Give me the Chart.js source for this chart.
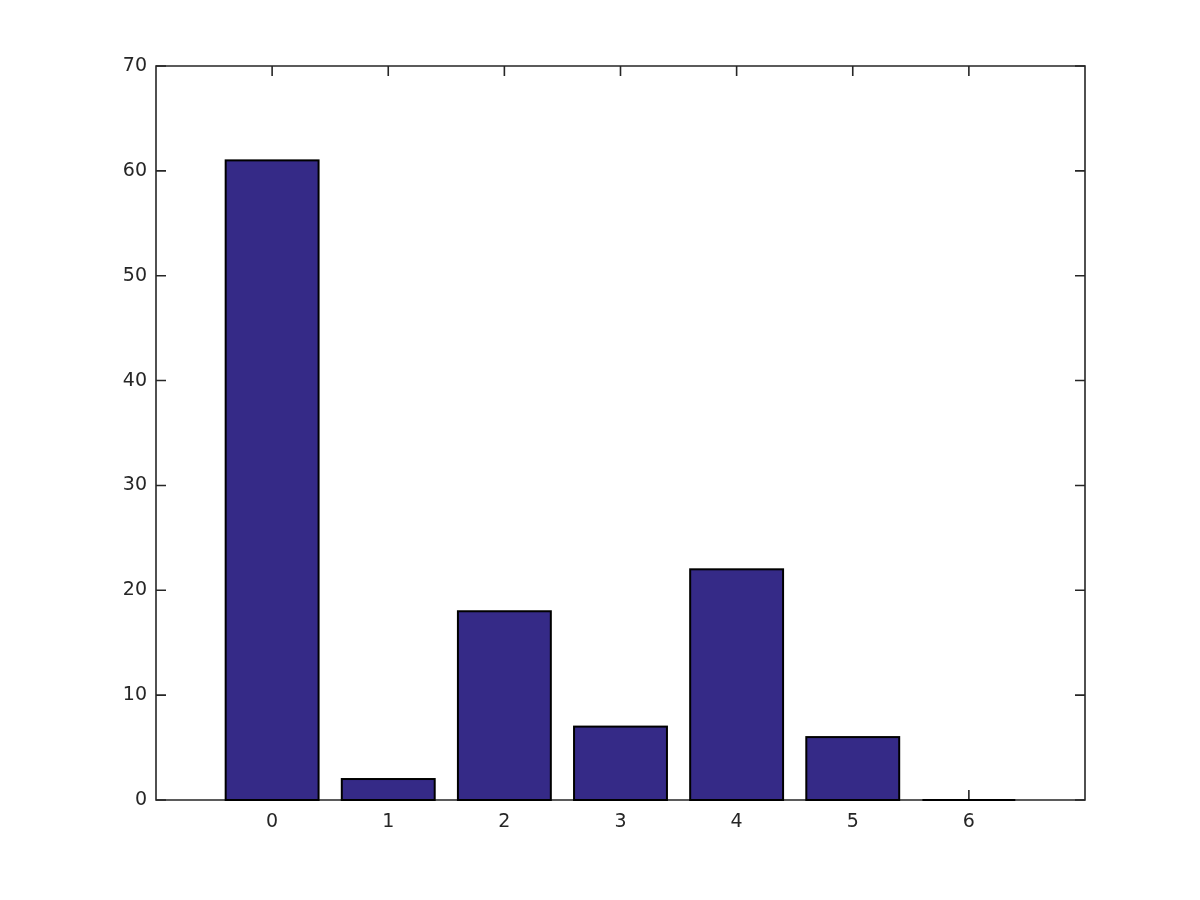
<!DOCTYPE html>
<html>
<head>
<meta charset="utf-8">
<script src="https://cdn.jsdelivr.net/npm/chart.js@4.4.0/dist/chart.umd.min.js"></script>
<style>
html,body{margin:0;padding:0;background:#fff;}
#wrap{width:1200px;height:900px;}
</style>
</head>
<body>
<div id="wrap"><canvas id="c" width="1200" height="900"></canvas></div>
<script>
const categories = [0, 1, 2, 3, 4, 5, 6];
const counts = [61, 2, 18, 7, 22, 6, 0];
const xTickLabels = ['0', '1', '2', '3', '4', '5', '6'];
const yTickValues = [0, 10, 20, 30, 40, 50, 60, 70];

const AXIS = '#262626';
const FONT = {family: 'DejaVu Sans', size: 19};

const framePlugin = {
  id: 'frame',
  afterDraw(chart) {
    const {ctx, chartArea: a, scales: {x, y}} = chart;
    ctx.save();
    ctx.strokeStyle = AXIS;
    ctx.lineWidth = 1.6;
    ctx.beginPath();
    ctx.rect(a.left, a.top, a.right - a.left, a.bottom - a.top);
    ctx.stroke();
    const L = 10;
    ctx.beginPath();
    categories.forEach(v => {
      const px = x.getPixelForValue(v);
      ctx.moveTo(px, a.bottom); ctx.lineTo(px, a.bottom - L);
      ctx.moveTo(px, a.top); ctx.lineTo(px, a.top + L);
    });
    yTickValues.forEach(v => {
      const py = y.getPixelForValue(v);
      ctx.moveTo(a.left, py); ctx.lineTo(a.left + L, py);
      ctx.moveTo(a.right, py); ctx.lineTo(a.right - L, py);
    });
    ctx.stroke();
    ctx.restore();
  }
};

const barsOverFrame = {
  id: 'barsOverFrame',
  afterDraw(chart) {
    const meta = chart.getDatasetMeta(0);
    const ctx = chart.ctx;
    const y0 = chart.scales.y.getPixelForValue(0);
    ctx.save();
    meta.data.forEach((bar) => {
      const p = bar.getProps(['x', 'y', 'width'], true);
      const left = p.x - p.width / 2;
      const top = Math.min(p.y, y0);
      const h = Math.abs(y0 - p.y);
      ctx.fillStyle = '#352a87';
      ctx.fillRect(left, top, p.width, h);
      ctx.strokeStyle = '#000000';
      ctx.lineWidth = 2;
      ctx.strokeRect(left, top, p.width, h);
    });
    ctx.restore();
  }
};

new Chart(document.getElementById('c'), {
  type: 'bar',
  data: {
    datasets: [{
      data: categories.map((c, i) => ({x: c, y: counts[i]})),
      backgroundColor: 'rgba(0,0,0,0)',
      borderWidth: 0,
      barPercentage: 0.8,
      categoryPercentage: 1.0
    }]
  },
  options: {
    responsive: false,
    animation: false,
    devicePixelRatio: 1,
    layout: {padding: {left: 0, top: 66, right: 115, bottom: 0}},
    plugins: {legend: {display: false}, tooltip: {enabled: false}},
    scales: {
      x: {
        type: 'linear',
        offset: false,
        min: -1, max: 7,
        afterBuildTicks(s) { s.ticks = categories.map(v => ({value: v})); },
        afterFit(s) { s.height = 100; },
        grid: {display: false, drawTicks: false, offset: false},
        border: {display: false},
        ticks: {
          color: AXIS, font: FONT, padding: 11, maxRotation: 0,
          callback: (v) => xTickLabels[categories.indexOf(v)] ?? ''
        }
      },
      y: {
        min: 0, max: 70,
        afterBuildTicks(s) { s.ticks = yTickValues.map(v => ({value: v})); },
        afterFit(s) { s.width = 156; },
        grid: {display: false, drawTicks: false},
        border: {display: false},
        ticks: {color: AXIS, font: FONT, padding: 9}
      }
    }
  },
  plugins: [framePlugin, barsOverFrame]
});
</script>
</body>
</html>
